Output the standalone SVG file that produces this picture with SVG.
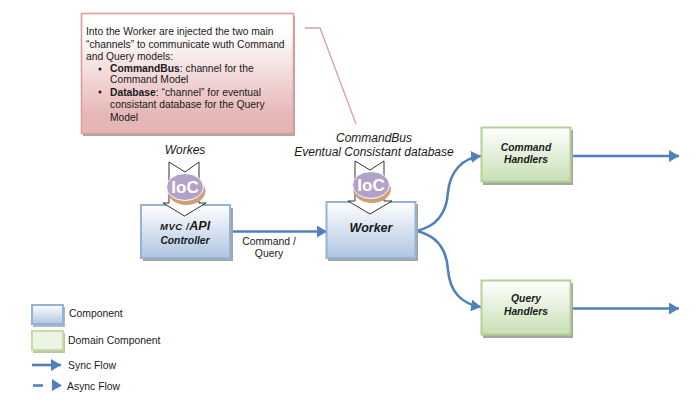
<svg xmlns="http://www.w3.org/2000/svg" width="700" height="410" viewBox="0 0 700 410">
<defs>
<linearGradient id="blue" x1="0" y1="0" x2="0" y2="1"><stop offset="0" stop-color="#ffffff"/><stop offset="1" stop-color="#afc5e1"/></linearGradient>
<linearGradient id="green" x1="0" y1="0" x2="0" y2="1"><stop offset="0" stop-color="#ffffff"/><stop offset="1" stop-color="#c8dfb4"/></linearGradient>
<linearGradient id="red" x1="0" y1="0" x2="0" y2="1"><stop offset="0.150" stop-color="#ffffff"/><stop offset="0.850" stop-color="#e6b6b6"/></linearGradient>
<marker id="arrow" markerUnits="userSpaceOnUse" markerWidth="11" markerHeight="12" refX="10" refY="6" orient="auto"><path d="M0 0L10 6L0 12Z" fill="#4f81bd"/></marker>
</defs>
<style>
text{font-family:"Liberation Sans",Arial,sans-serif;fill:#1a1a1a}
.shadow{fill:#a5a5a5}
.b{fill:url(#blue);stroke:#95b3d7;stroke-width:2}
.g{fill:url(#green);stroke:#b3d193;stroke-width:2}
.flow{fill:none;stroke:#4f81bd;stroke-width:2.6;marker-end:url(#arrow)}
.small{font-size:10.4px}
.note{font-size:10.3px}
.label{font-size:10.3px;font-weight:bold;font-style:italic;text-anchor:middle}
.cap{font-size:12px;font-style:italic;text-anchor:middle}
.chev{fill:#fff;stroke:#333;stroke-width:1}
.ioc{font-size:17px;font-weight:bold;fill:#fff;text-anchor:middle}
</style>
<rect width="700" height="410" fill="#fff"/>

<g id="connectors">
<path d="M305 28H320L356 124" fill="none" stroke="#dc9d9d" stroke-width="1.3"/>
<path class="flow" d="M230 231.500H327"/>
<path class="flow" d="M416 231C440 226 447 208 448 192C450 172 462 158 481 156"/>
<path class="flow" d="M416 231C440 236 447 254 448 270C450 292 462 304 481 307"/>
<path class="flow" d="M570 156H679"/>
<path class="flow" d="M570 308.500H679"/>
</g>

<g id="note">
<rect x="83" y="16" width="212" height="120" fill="#aaa"/>
<rect x="81.500" y="13.500" width="212" height="120" fill="url(#red)" stroke="#dc9d9d" stroke-width="1.600"/>
<text class="note" x="86" y="35">Into the Worker are injected the two main</text>
<text class="note" x="86" y="47.500">“channels” to communicate wuth Command</text>
<text class="note" x="86" y="59.500">and Query models:</text>
<circle cx="100" cy="69" r="1.500" fill="#1a1a1a"/>
<text class="note" x="110" y="72"><tspan font-weight="bold">CommandBus</tspan>: channel for the</text>
<text class="note" x="110" y="83">Command Model</text>
<circle cx="100" cy="92" r="1.500" fill="#1a1a1a"/>
<text class="note" x="110" y="96"><tspan font-weight="bold">Database</tspan>: “channel” for eventual</text>
<text class="note" x="110" y="108">consistant database for the Query</text>
<text class="note" x="110" y="121">Model</text>
</g>

<g id="mvc-controller">
<rect x="143" y="208" width="90" height="53" class="shadow"/>
<rect x="141" y="205" width="89" height="53" class="b"/>
<text class="label" x="185" y="230"><tspan font-size="9.500px" letter-spacing="0.600">MVC /</tspan><tspan font-size="12.500px">API</tspan></text>
<text class="label" x="185" y="244">Controller</text>
</g>

<text class="small" x="269" y="245" text-anchor="middle">Command /</text>
<text class="small" x="269" y="257" text-anchor="middle">Query</text>

<g id="worker">
<rect x="328" y="204" width="90" height="57" class="shadow"/>
<rect x="326.500" y="202" width="89" height="56" class="b"/>
<text x="371" y="232" font-size="12.500" font-weight="bold" font-style="italic" text-anchor="middle">Worker</text>
</g>

<g id="workes-ioc">
<text class="cap" x="185" y="154">Workes</text>
<path class="chev" d="M169 162L185 172L199 162V203H206L184.500 216L163 203H169Z"/>
<ellipse cx="186.500" cy="191" rx="19" ry="14" fill="#cf9f78"/>
<ellipse cx="185" cy="187" rx="18.500" ry="13.500" fill="#b3a2c7" stroke="#fff" stroke-width="1"/>
<text class="ioc" x="185" y="193">IoC</text>
</g>

<g id="worker-ioc">
<text class="cap" x="374" y="142">CommandBus</text>
<text class="cap" x="374" y="156">Eventual Consistant database</text>
<path class="chev" d="M355 161L370 170L384 161V201H392L370 214L348 201H355Z"/>
<ellipse cx="372" cy="189" rx="19" ry="14" fill="#cf9f78"/>
<ellipse cx="371" cy="185" rx="18.500" ry="13.500" fill="#b3a2c7" stroke="#fff" stroke-width="1"/>
<text class="ioc" x="371" y="191">IoC</text>
</g>

<g id="command-handlers">
<rect x="483" y="130" width="90" height="55" class="shadow"/>
<rect x="481.500" y="127.500" width="89" height="54" class="g"/>
<text class="label" x="526" y="151">Command</text>
<text class="label" x="526" y="163">Handlers</text>
</g>

<g id="query-handlers">
<rect x="483" y="283" width="90" height="55" class="shadow"/>
<rect x="481.500" y="280.500" width="89" height="54" class="g"/>
<text class="label" x="526" y="302">Query</text>
<text class="label" x="526" y="315">Handlers</text>
</g>

<g id="legend">
<rect x="33" y="307" width="32" height="20" fill="#a9b8c8"/>
<rect x="32" y="305" width="31" height="19" class="b"/>
<text class="small" x="69" y="317">Component</text>
<rect x="33" y="333" width="32" height="20" fill="#b9c6a8"/>
<rect x="32" y="331" width="31" height="19" fill="#eef4e4" stroke="#c6dba8" stroke-width="2"/>
<text class="small" x="68" y="344">Domain Component</text>
<path class="flow" d="M32 365H61"/>
<text class="small" x="68" y="369">Sync Flow</text>
<path d="M33 385.500H43" stroke="#4f81bd" stroke-width="2.600"/>
<path d="M52 379L62 385.500L52 391Z" fill="#4f81bd"/>
<text class="small" x="67" y="390">Async Flow</text>
</g>
</svg>
